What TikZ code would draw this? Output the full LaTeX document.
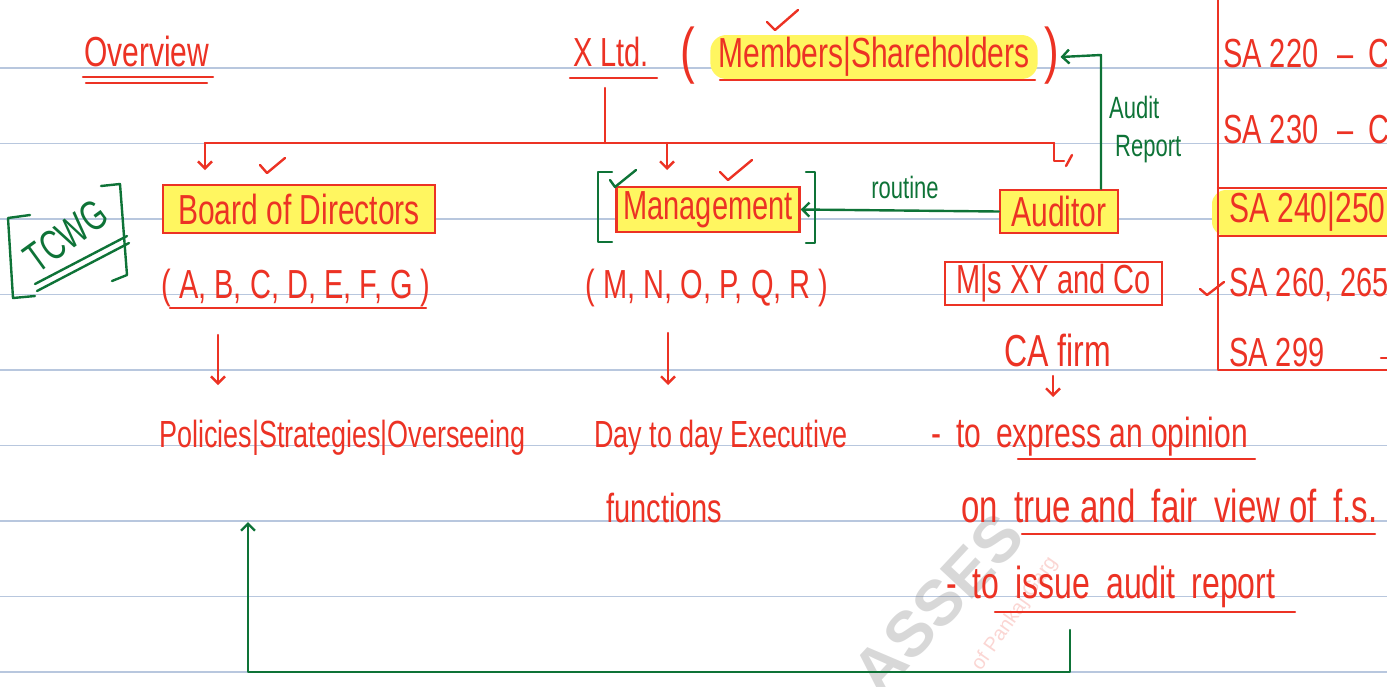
\documentclass[tikz,border=0pt]{standalone}
\usepackage{fontspec}
\setmainfont{Liberation Sans}
\usetikzlibrary{arrows.meta}
\definecolor{pen}{RGB}{236,50,36}
\definecolor{gpen}{RGB}{14,115,55}
\definecolor{hl}{RGB}{255,246,96}
\definecolor{ruled}{RGB}{184,199,222}
\newcommand{\tall}[1]{\scalebox{1}[1.4]{#1}}
\tikzset{
  hand/.style={text=pen, font=\fontsize{29}{34}\selectfont, inner sep=1pt},
  ghand/.style={text=gpen, font=\fontsize{22}{26}\selectfont, inner sep=1pt},
  redline/.style={draw=pen, line width=2.4pt, line cap=round, line join=round},
  greenline/.style={draw=gpen, line width=2.4pt, line cap=round, line join=round},
  tip/.style={-{Straight Barb[length=7pt,width=14pt,line width=2.4pt]}},
  hbox/.style={hand, draw=pen, line width=2.4pt, fill=hl, inner sep=0pt},
  ruleline/.style={draw=ruled, line width=1.3pt}
}
\begin{document}
\begin{tikzpicture}[x=1pt,y=-1pt]
\useasboundingbox (0,0) rectangle (1387,686);
\fill[white] (0,0) rectangle (1387,686);
\foreach \yy in {68,143.5,219,294.5,370,445.5,521,596.5,672}
  \draw[ruleline] (0,\yy) -- (1387,\yy);

% watermark
\node[rotate=47, text=gray, opacity=0.3, font=\fontsize{64}{70}\bfseries\selectfont] (wm) at (938,604) {ASSES};
\node[rotate=55, text=pen, opacity=0.2, font=\fontsize{20}{24}\selectfont] (wm2) at (1015,614) {of Pankaj Garg};

% title row
\node[hand, anchor=base west, font=\fontsize{30}{34}\selectfont] (ov) at (83,66) {\tall{Overview}};
\draw[redline] (83,77) -- (213,77);
\draw[redline] (86,83) -- (207,83);

\node[hand, anchor=base west] (xltd) at (572,66) {\tall{X Ltd.}};
\draw[redline] (570,78) -- (657,78);

\node[hand, font=\fontsize{44}{50}\selectfont] (lp) at (688,56) {\tall{(}};
\node[hand, fill=hl, rounded corners=16pt, minimum height=44pt, inner xsep=8pt, font=\fontsize{30}{34}\selectfont] (mem) at (874,57) {\tall{Members|Shareholders}};
\node[hand, font=\fontsize{44}{50}\selectfont] (rp) at (1052,56) {\tall{)}};
\draw[redline] (720,80) -- (1035,80);
\draw[redline] (767,22) -- (775,30) -- (798,10);

% bus
\coordinate (trunk) at (605,88);
\coordinate (busc) at (605,143);
\coordinate (b1) at (205,143);
\coordinate (b2) at (667,143);
\coordinate (b3) at (1054,143);
\coordinate (t1) at (205,170);
\coordinate (t2) at (667,170);
\coordinate (t3) at (1054,161);
\draw[redline] (trunk) -- (busc);
\draw[redline] (b1) -- (b3);
\draw[redline, tip] (b1) -- (t1);
\draw[redline, tip] (b2) -- (t2);
\draw[redline] (b3) -- (t3) -- (1064,161);
\draw[redline] (1066,166) -- (1072,155);

% Board
\node[hbox, minimum width=272pt, minimum height=48pt, font=\fontsize{30}{34}\selectfont] (bod) at (299,209) {\tall{Board of Directors}};
\draw[redline] (260,165) -- (267,173) -- (285,158);
\node[hand, anchor=base] (abc) at (296,298) {\tall{( A, B, C, D, E, F, G )}};
\draw[redline] (170,308) -- (426,308);

% TCWG
\node[text=gpen, rotate=36, font=\fontsize{30}{34}\selectfont, inner sep=1pt] (tcwg) at (66,236) {\tall{TCWG}};
\draw[greenline] (35,284) -- (127,236);
\draw[greenline] (37,291) -- (129,243);
\draw[greenline] (30,215) -- (8,218) -- (13,298) -- (35,296);
\draw[greenline] (101,186) -- (120,184) -- (127,275) -- (112,281);

% Management
\node[hbox, minimum width=183pt, minimum height=45pt, font=\fontsize{29}{34}\selectfont] (mgmt) at (708,209.5) {\tall{Management}};
\draw[greenline] (612,172) -- (598,172) -- (598,242) -- (612,242);
\draw[greenline] (806,172) -- (815,172) -- (815,243) -- (806,243);
\draw[greenline] (610,180) -- (615,187) -- (636,170);
\draw[redline] (720,172) -- (728,180) -- (752,160);
\node[hand, anchor=base] (mno) at (707,298) {\tall{( M, N, O, P, Q, R )}};

% Auditor
\node[hbox, minimum width=118pt, minimum height=43pt, font=\fontsize{30}{34}\selectfont] (aud) at (1059,211.5) {\tall{Auditor}};
\draw[greenline, tip] (aud.west) -- (mgmt.east);
\node[ghand, anchor=base] (routine) at (905,198) {\tall{routine}};
\coordinate (arup) at (1101,55);
\draw[greenline, tip] (aud.north -| arup) -- (arup) -- (mem.east -| rp.east);
\node[ghand, anchor=base west] (audit) at (1108,118) {\tall{Audit}};
\node[ghand, anchor=base west] (report) at (1114,156) {\tall{Report}};

\node[hand, draw=pen, line width=2.4pt, minimum width=217pt, minimum height=43pt, inner sep=0pt] (firm) at (1053.5,283.5) {\tall{M|s XY and Co}};
\node[hand, anchor=base, font=\fontsize{32}{36}\selectfont] (ca) at (1058,366) {\tall{CA firm}};
\coordinate (ca1) at (1053,376);
\coordinate (ca2) at (1053,397);
\draw[redline, tip] (ca1) -- (ca2);

% lower arrows
\coordinate (p1) at (218,335);
\coordinate (p2) at (218,385);
\coordinate (q1) at (668,333);
\coordinate (q2) at (668,385);
\draw[redline, tip] (p1) -- (p2);
\draw[redline, tip] (q1) -- (q2);

\node[hand, anchor=base west, font=\fontsize{27}{32}\selectfont] (pol) at (158,447) {\tall{Policies|Strategies|Overseeing}};
\node[hand, anchor=base west, font=\fontsize{27}{32}\selectfont] (day) at (593,447) {\tall{Day to day Executive}};
\node[hand, anchor=base west] (fun) at (605,522) {\tall{functions}};

\node[hand, anchor=base west, font=\fontsize{30}{34}\selectfont] (exp) at (930,447) {\tall{-\enspace to\enspace express an opinion}};
\draw[redline] (1018,459) -- (1255,459);
\node[hand, anchor=base west, font=\fontsize{33}{38}\selectfont] (tfv) at (960,522) {\tall{on\enspace true and\enspace fair\enspace view of\enspace f.s.}};
\draw[redline] (1022,534) -- (1375,534);
\node[hand, anchor=base west, font=\fontsize{32}{36}\selectfont] (iss) at (945,598) {\tall{-\enspace to\enspace issue\enspace audit\enspace report}};
\draw[redline] (995,612) -- (1295,612);

% return line
\coordinate (r1) at (1070,630);
\coordinate (r2) at (248,522);
\draw[greenline, tip] (r1) -- (1070,672) -- (248,672) -- (r2);

% SA table
\fill[hl, rounded corners=14pt] (1212,190) rectangle (1400,236);
\draw[redline] (1218,-5) -- (1218,370) -- (1392,370);
\draw[redline] (1218,188) -- (1392,188);
\draw[redline] (1218,236) -- (1392,236);
\node[hand, anchor=base west] (sa220) at (1222,67) {\tall{SA 220\enspace\,–\enspace C}};
\node[hand, anchor=base west] (sa230) at (1222,143) {\tall{SA 230\enspace\,–\enspace C}};
\node[hand, anchor=base west, font=\fontsize{30}{34}\selectfont] (sa240) at (1228,222) {\tall{SA 240|250}};
\node[hand, anchor=base west] (sa260) at (1228,296) {\tall{SA 260, 265}};
\node[hand, anchor=base west] (sa299) at (1228,366) {\tall{SA 299}};
\draw[redline] (1381,358) -- (1387,358);
\draw[redline] (1200,289) -- (1207,295) -- (1224,282);
\end{tikzpicture}
\end{document}
